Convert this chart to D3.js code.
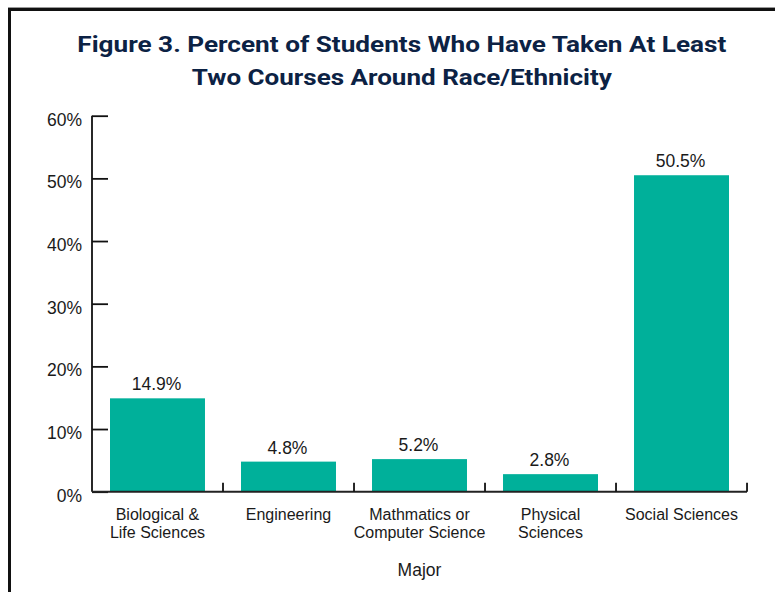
<!DOCTYPE html>
<html><head><meta charset="utf-8">
<script src="https://cdn.jsdelivr.net/npm/d3@7"></script>
<style>html,body{margin:0;padding:0;background:#fff;}svg{display:block;}</style>
</head><body>
<svg id="chart" width="775" height="592"></svg>
<script>
const titleLines = ["Figure 3. Percent of Students Who Have Taken At Least", "Two Courses Around Race/Ethnicity"];
const categories = [["Biological &", "Life Sciences"], ["Engineering"], ["Mathmatics or", "Computer Science"], ["Physical", "Sciences"], ["Social Sciences"]];
const values = [14.9, 4.8, 5.2, 2.8, 50.5];
const yTicks = [0, 10, 20, 30, 40, 50, 60];
const xTitle = "Major";

const svg = d3.select("#chart");
const W = 775, H = 592;
const m = {left: 92, right: 28, top: 115.7, bottom: 100.3};
const x = d3.scaleBand().domain(d3.range(values.length)).range([m.left, W - m.right]).paddingInner(0.275).paddingOuter(0.1374);
const y = d3.scaleLinear().domain([0, 60]).range([H - m.bottom, m.top]);

// frame
svg.append("line").attr("x1", 8).attr("x2", W).attr("y1", 7.5).attr("y2", 7.5).attr("stroke", "#9a9a9a").attr("stroke-width", 1);
svg.append("path").attr("d", `M9.5,${H} V9.5 H${W}`).attr("fill", "none").attr("stroke", "#111").attr("stroke-width", 3);

// title
const title = svg.append("g").attr("font-family", "Roboto, 'Liberation Sans', sans-serif").attr("font-weight", 700).attr("font-size", 22.5).attr("fill", "#0c2244").attr("text-anchor", "middle");
const tLens = [649, 420];
const tY = [52, 84.5];
titleLines.forEach((t, i) => {
  title.append("text").attr("x", 401.8).attr("y", tY[i]).attr("textLength", tLens[i]).attr("lengthAdjust", "spacingAndGlyphs").text(t);
});

const font = "'Liberation Sans', Arial, sans-serif";

// bars
svg.append("g").selectAll("rect").data(values).join("rect")
  .attr("x", (d, i) => x(i)).attr("width", x.bandwidth())
  .attr("y", d => y(d)).attr("height", d => y(0) - y(d))
  .attr("fill", "#00b09a");

// value labels
svg.append("g").selectAll("text").data(values).join("text")
  .attr("x", (d, i) => x(i) + x.bandwidth() / 2 - 1)
  .attr("y", d => y(d) - 8)
  .attr("text-anchor", "middle").attr("font-family", font).attr("font-size", 17.5).attr("fill", "#1a1a1a")
  .text(d => d.toFixed(1) + "%");

// y axis
const yAxis = svg.append("g").attr("transform", `translate(${m.left},0)`)
  .call(d3.axisRight(y).tickValues(yTicks).tickSize(16).tickFormat(""));
yAxis.select(".domain").attr("d", `M0,${y(60)}V${y(0)}`).attr("stroke", "#111").attr("stroke-width", 1.8);
yAxis.selectAll(".tick line").attr("stroke", "#111").attr("stroke-width", 1.8);
svg.append("g").selectAll("text").data(yTicks).join("text")
  .attr("x", m.left - 10).attr("y", d => y(d) + 4).attr("dy", "0.35em")
  .attr("text-anchor", "end").attr("font-family", font).attr("font-size", 17.5).attr("fill", "#1a1a1a")
  .text(d => d + "%");

// x axis baseline and boundary ticks
const bounds = d3.range(values.length + 1).map(i => m.left + i * x.step());
svg.append("line").attr("x1", m.left).attr("x2", W - m.right).attr("y1", y(0)).attr("y2", y(0)).attr("stroke", "#222").attr("stroke-width", 2);
svg.append("g").selectAll("line").data(bounds.slice(1)).join("line")
  .attr("x1", d => d).attr("x2", d => d).attr("y1", y(0)).attr("y2", y(0) - 9)
  .attr("stroke", "#111").attr("stroke-width", 1.8);

// category labels (one text element per line)
const cat = svg.append("g").attr("font-family", font).attr("font-size", 16).attr("fill", "#1a1a1a").attr("text-anchor", "middle");
categories.forEach((lines, i) => {
  lines.forEach((l, j) => cat.append("text")
    .attr("x", x(i) + x.bandwidth() / 2)
    .attr("y", y(0) + 28 + j * 18.6)
    .text(l));
});

// x title
svg.append("text").attr("x", (m.left + W - m.right) / 2).attr("y", 576)
  .attr("text-anchor", "middle").attr("font-family", font).attr("font-size", 17.5).attr("fill", "#1a1a1a").text(xTitle);
</script>
</body></html>
